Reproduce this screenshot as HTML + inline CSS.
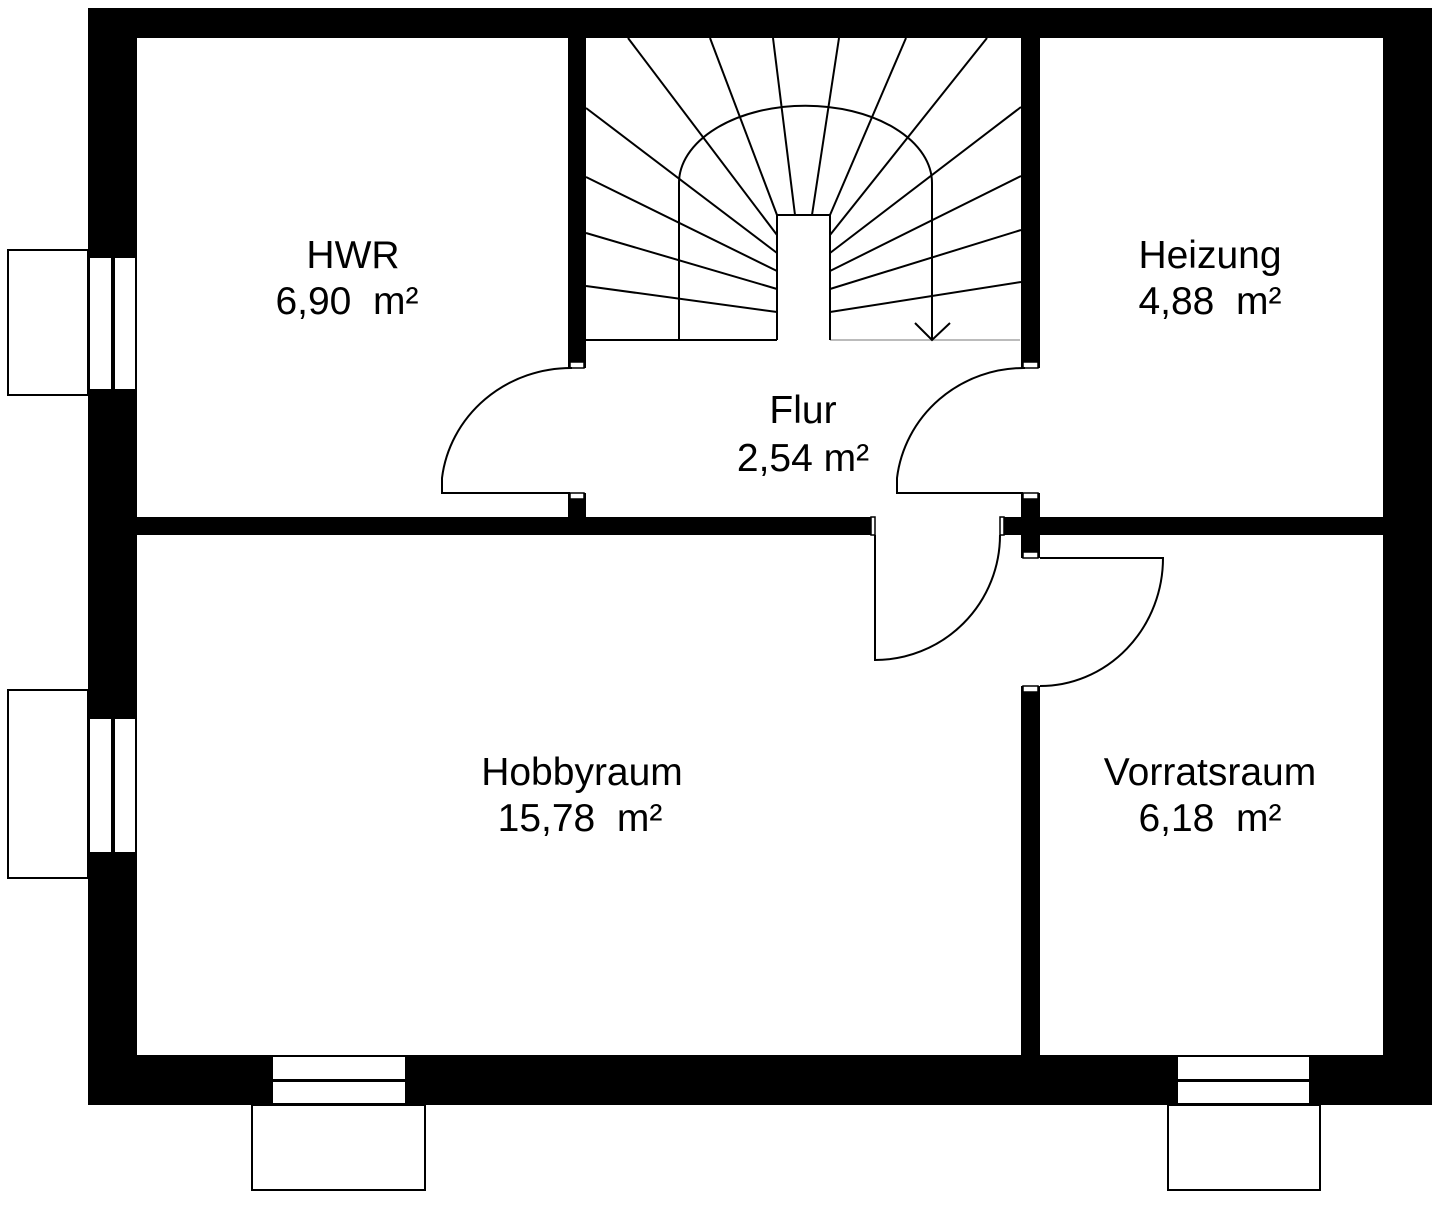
<!DOCTYPE html>
<html><head><meta charset="utf-8"><style>
html,body{margin:0;padding:0;background:#fff;}
svg{display:block;}
text{font-family:"Liberation Sans",Arial,sans-serif;font-size:39px;fill:#000;text-anchor:middle;white-space:pre;}
</style></head><body>
<svg width="1440" height="1211" viewBox="0 0 1440 1211" xmlns="http://www.w3.org/2000/svg">
<rect width="1440" height="1211" fill="#fff"/>
<path fill="#000" fill-rule="evenodd" d="M88 8H1432V1105H88Z M137 38H1383V1055H137Z"/>
<rect x="137" y="517" width="736" height="18" fill="#000"/>
<rect x="1002" y="517" width="381" height="18" fill="#000"/>
<rect x="568" y="38" width="18" height="330" fill="#000"/>
<rect x="568" y="493" width="18" height="24" fill="#000"/>
<rect x="1021" y="38" width="19" height="330" fill="#000"/>
<rect x="1021" y="493" width="19" height="65" fill="#000"/>
<rect x="1021" y="686" width="19" height="369" fill="#000"/>
<g fill="#fff" stroke="#000" stroke-width="1.5">
<rect x="570" y="362" width="14" height="6"/><rect x="570" y="493" width="14" height="6"/>
<rect x="1023" y="362" width="15" height="6"/><rect x="1023" y="493" width="15" height="6"/>
<rect x="1023" y="552" width="15" height="6"/><rect x="1023" y="686" width="15" height="6"/>
<rect x="871" y="517" width="4" height="18"/><rect x="1000" y="517" width="4" height="18"/>
</g>
<g fill="#fff" stroke="#000" stroke-width="2">
<rect x="8" y="250" width="80" height="145"/>
<rect x="89" y="257" width="23" height="133"/><rect x="114" y="257" width="22" height="133"/>
<rect x="8" y="690" width="80" height="188"/>
<rect x="89" y="718" width="23" height="135"/><rect x="114" y="718" width="22" height="135"/>
<rect x="252" y="1105" width="173" height="85"/>
<rect x="272" y="1056" width="134" height="24"/><rect x="272" y="1081" width="134" height="23"/>
<rect x="1168" y="1105" width="152" height="85"/>
<rect x="1177" y="1056" width="133" height="24"/><rect x="1177" y="1081" width="133" height="23"/>
</g>
<g fill="none" stroke="#000" stroke-width="2">
<path d="M572 368 A130 125 0 0 0 442 478 L442 493 L570 493"/>
<path d="M1025 368 A128 125 0 0 0 897 478 L897 493 L1023 493"/>
<path d="M875 535 L875 660 A125 125 0 0 0 1000 535"/>
<path d="M1040 558 L1163 558 A123 128 0 0 1 1040 686"/>
</g>
<g fill="none" stroke="#000" stroke-width="2">
<line x1="586" y1="340" x2="777" y2="340"/>
<line x1="830" y1="340" x2="1020" y2="340" stroke="#bbb"/>
<path d="M777 340 V215 H830 V340"/>
<path d="M679 340 V183 A126 77 0 0 1 932 183 V340"/>
<path d="M915 323 L932 340 L950 323"/>
<line x1="628" y1="38" x2="777" y2="235"/>
<line x1="710" y1="38" x2="777" y2="215"/>
<line x1="773" y1="38" x2="795" y2="215"/>
<line x1="839" y1="38" x2="812" y2="215"/>
<line x1="906" y1="38" x2="830" y2="215"/>
<line x1="987" y1="38" x2="830" y2="235"/>
<line x1="586" y1="108" x2="777" y2="253"/>
<line x1="586" y1="177" x2="777" y2="271"/>
<line x1="586" y1="233" x2="777" y2="289"/>
<line x1="586" y1="286" x2="777" y2="312"/>
<line x1="1021" y1="107" x2="830" y2="253"/>
<line x1="1021" y1="176" x2="830" y2="271"/>
<line x1="1021" y1="230" x2="830" y2="289"/>
<line x1="1021" y1="282" x2="830" y2="312"/>
</g>
<text x="353" y="268">HWR</text><text x="347" y="314">6,90  m²</text>
<text x="803" y="423">Flur</text><text x="803" y="471">2,54 m²</text>
<text x="1210" y="268">Heizung</text><text x="1210" y="314">4,88  m²</text>
<text x="582" y="785">Hobbyraum</text><text x="580" y="831">15,78  m²</text>
<text x="1210" y="785">Vorratsraum</text><text x="1210" y="831">6,18  m²</text>
</svg>
</body></html>
